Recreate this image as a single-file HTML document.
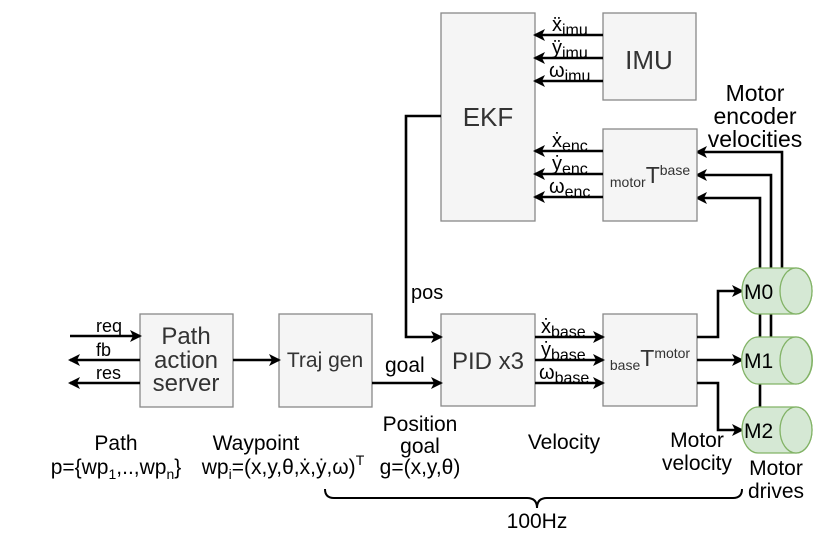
<!DOCTYPE html>
<html><head><meta charset="utf-8"><style>
body{margin:0;background:#fff}
svg{display:block;font-family:"Liberation Sans",sans-serif}
.b{fill:#f5f5f5;stroke:#888;stroke-width:1.3}
.l{stroke:#000;stroke-width:2.6;fill:none}
.m{fill:#d5e8d4;stroke:#82b366;stroke-width:1.3}
text{font-size:19px}
.bt{fill:#333;font-size:23px}
</style></head><body>
<svg width="814" height="540" viewBox="0 0 814 540">
<defs><marker id="a" markerWidth="12" markerHeight="12" refX="10" refY="6" orient="auto" markerUnits="userSpaceOnUse"><path d="M0,0 L12,6 L0,12 L3,6 Z" fill="#000"/></marker></defs>
<path class="l" d="M782,268 V152 H697" marker-end="url(#a)"/>
<path class="l" d="M771,337 V175 H697" marker-end="url(#a)"/>
<path class="l" d="M760,407 V198 H697" marker-end="url(#a)"/>
<rect class="b" x="441" y="13" width="94" height="208"/>
<text class="bt" x="488" y="126" text-anchor="middle" style="font-size:26px">EKF</text>
<rect class="b" x="603" y="13" width="93" height="87"/>
<text class="bt" x="649" y="69" text-anchor="middle" style="font-size:26px">IMU</text>
<rect class="b" x="603" y="129" width="94" height="92"/>
<text class="bt" x="650" y="183" text-anchor="middle"><tspan style="font-size:14px" dy="4">motor</tspan><tspan dy="-4">T</tspan><tspan style="font-size:14px" dy="-8">base</tspan></text>
<rect class="b" x="441" y="314" width="94" height="92"/>
<text class="bt" x="488" y="369" text-anchor="middle" style="font-size:24px">PID x3</text>
<rect class="b" x="603" y="314" width="94" height="92"/>
<text class="bt" x="650" y="366" text-anchor="middle"><tspan style="font-size:14px" dy="4">base</tspan><tspan dy="-4">T</tspan><tspan style="font-size:14px" dy="-8">motor</tspan></text>
<rect class="b" x="140" y="314" width="93" height="93"/>
<text class="bt" x="186" y="344" text-anchor="middle" style="font-size:24px">Path</text>
<text class="bt" x="186" y="368" text-anchor="middle" style="font-size:24px">action</text>
<text class="bt" x="186" y="391" text-anchor="middle" style="font-size:24px">server</text>
<rect class="b" x="279" y="314" width="93" height="93"/>
<text class="bt" x="325" y="367" text-anchor="middle" style="font-size:21px">Traj gen</text>
<path class="l" d="M603,35 H535" marker-end="url(#a)"/>
<path class="l" d="M603,58 H535" marker-end="url(#a)"/>
<path class="l" d="M603,81 H535" marker-end="url(#a)"/>
<text x="552" y="31" style="font-size:20px">ẍ<tspan font-size="16" dy="4">imu</tspan></text>
<text x="552" y="54" style="font-size:20px">ÿ<tspan font-size="16" dy="4">imu</tspan></text>
<text x="549" y="77" style="font-size:20px">ω<tspan font-size="16" dy="4">imu</tspan></text>
<path class="l" d="M603,151 H535" marker-end="url(#a)"/>
<path class="l" d="M603,174 H535" marker-end="url(#a)"/>
<path class="l" d="M603,197 H535" marker-end="url(#a)"/>
<text x="552" y="147" style="font-size:20px">ẋ<tspan font-size="16" dy="4">enc</tspan></text>
<text x="552" y="170" style="font-size:20px">ẏ<tspan font-size="16" dy="4">enc</tspan></text>
<text x="549" y="193" style="font-size:20px">ω<tspan font-size="16" dy="4">enc</tspan></text>
<text x="755" y="101" text-anchor="middle" style="font-size:23px">Motor</text>
<text x="755" y="124" text-anchor="middle" style="font-size:23px">encoder</text>
<text x="755" y="147" text-anchor="middle" style="font-size:23px">velocities</text>
<path class="l" d="M441,116 H406 V337 H441" marker-end="url(#a)"/>
<text x="411" y="299" style="font-size:20px">pos</text>
<path class="l" d="M535,337 H603" marker-end="url(#a)"/>
<path class="l" d="M535,360 H603" marker-end="url(#a)"/>
<path class="l" d="M535,383 H603" marker-end="url(#a)"/>
<text x="541" y="333" style="font-size:20px">ẋ<tspan font-size="16" dy="4">base</tspan></text>
<text x="541" y="356" style="font-size:20px">ẏ<tspan font-size="16" dy="4">base</tspan></text>
<text x="539" y="379" style="font-size:20px">ω<tspan font-size="16" dy="4">base</tspan></text>
<path class="l" d="M697,337 H718 V291 H742" marker-end="url(#a)"/>
<path class="l" d="M697,360 H742" marker-end="url(#a)"/>
<path class="l" d="M697,383 H718 V430 H742" marker-end="url(#a)"/>
<g>
<path class="m" d="M758,268 H796 A16,23 0 0 1 796,314 H758 A16,23 0 0 1 758,268 Z"/><ellipse class="m" cx="796" cy="291" rx="16" ry="23"/>
<text x="744" y="299" style="font-size:21px">M0</text>
<path class="m" d="M758,337 H796 A16,23 0 0 1 796,384 H758 A16,23 0 0 1 758,337 Z"/><ellipse class="m" cx="796" cy="360.5" rx="16" ry="23.5"/>
<text x="744" y="368" style="font-size:21px">M1</text>
<path class="m" d="M758,407 H796 A16,23 0 0 1 796,453 H758 A16,23 0 0 1 758,407 Z"/><ellipse class="m" cx="796" cy="430" rx="16" ry="23"/>
<text x="744" y="438" style="font-size:21px">M2</text>
</g>
<path class="l" d="M70,336 H140" marker-end="url(#a)"/>
<path class="l" d="M140,360 H70" marker-end="url(#a)"/>
<path class="l" d="M140,383 H70" marker-end="url(#a)"/>
<text x="96" y="332" style="font-size:18px">req</text>
<text x="96" y="356" style="font-size:18px">fb</text>
<text x="96" y="379" style="font-size:18px">res</text>
<path class="l" d="M233,360 H279" marker-end="url(#a)"/>
<path class="l" d="M372,383 H441" marker-end="url(#a)"/>
<text x="385" y="372" style="font-size:21px">goal</text>
<g text-anchor="middle">
<text x="116" y="450" style="font-size:21px">Path</text>
<text x="116" y="474" style="font-size:21px">p={wp<tspan font-size="14" dy="5">1</tspan><tspan dy="-5">,..,wp</tspan><tspan font-size="14" dy="5">n</tspan><tspan dy="-5">}</tspan></text>
<text x="256" y="450" style="font-size:21px">Waypoint</text>
<text x="283" y="474" style="font-size:21px">wp<tspan font-size="14" dy="5">i</tspan><tspan dy="-5">=(x,y,θ,ẋ,ẏ,ω)</tspan><tspan font-size="14" dy="-9">T</tspan></text>
<text x="420" y="431" style="font-size:21px">Position</text>
<text x="420" y="453" style="font-size:21px">goal</text>
<text x="420" y="474" style="font-size:21px">g=(x,y,θ)</text>
<text x="564" y="449" style="font-size:21px">Velocity</text>
<text x="697" y="447" style="font-size:21px">Motor</text>
<text x="697" y="470" style="font-size:21px">velocity</text>
<text x="776" y="475" style="font-size:21px">Motor</text>
<text x="776" y="498" style="font-size:21px">drives</text>
<text x="537" y="528" style="font-size:21px">100Hz</text>
</g>
<path d="M325,489 Q325,498 334,498 H527 Q537,498 537,508 Q537,498 547,498 H733 Q742,498 742,489" stroke="#000" stroke-width="2" fill="none"/>
</svg>
</body></html>
